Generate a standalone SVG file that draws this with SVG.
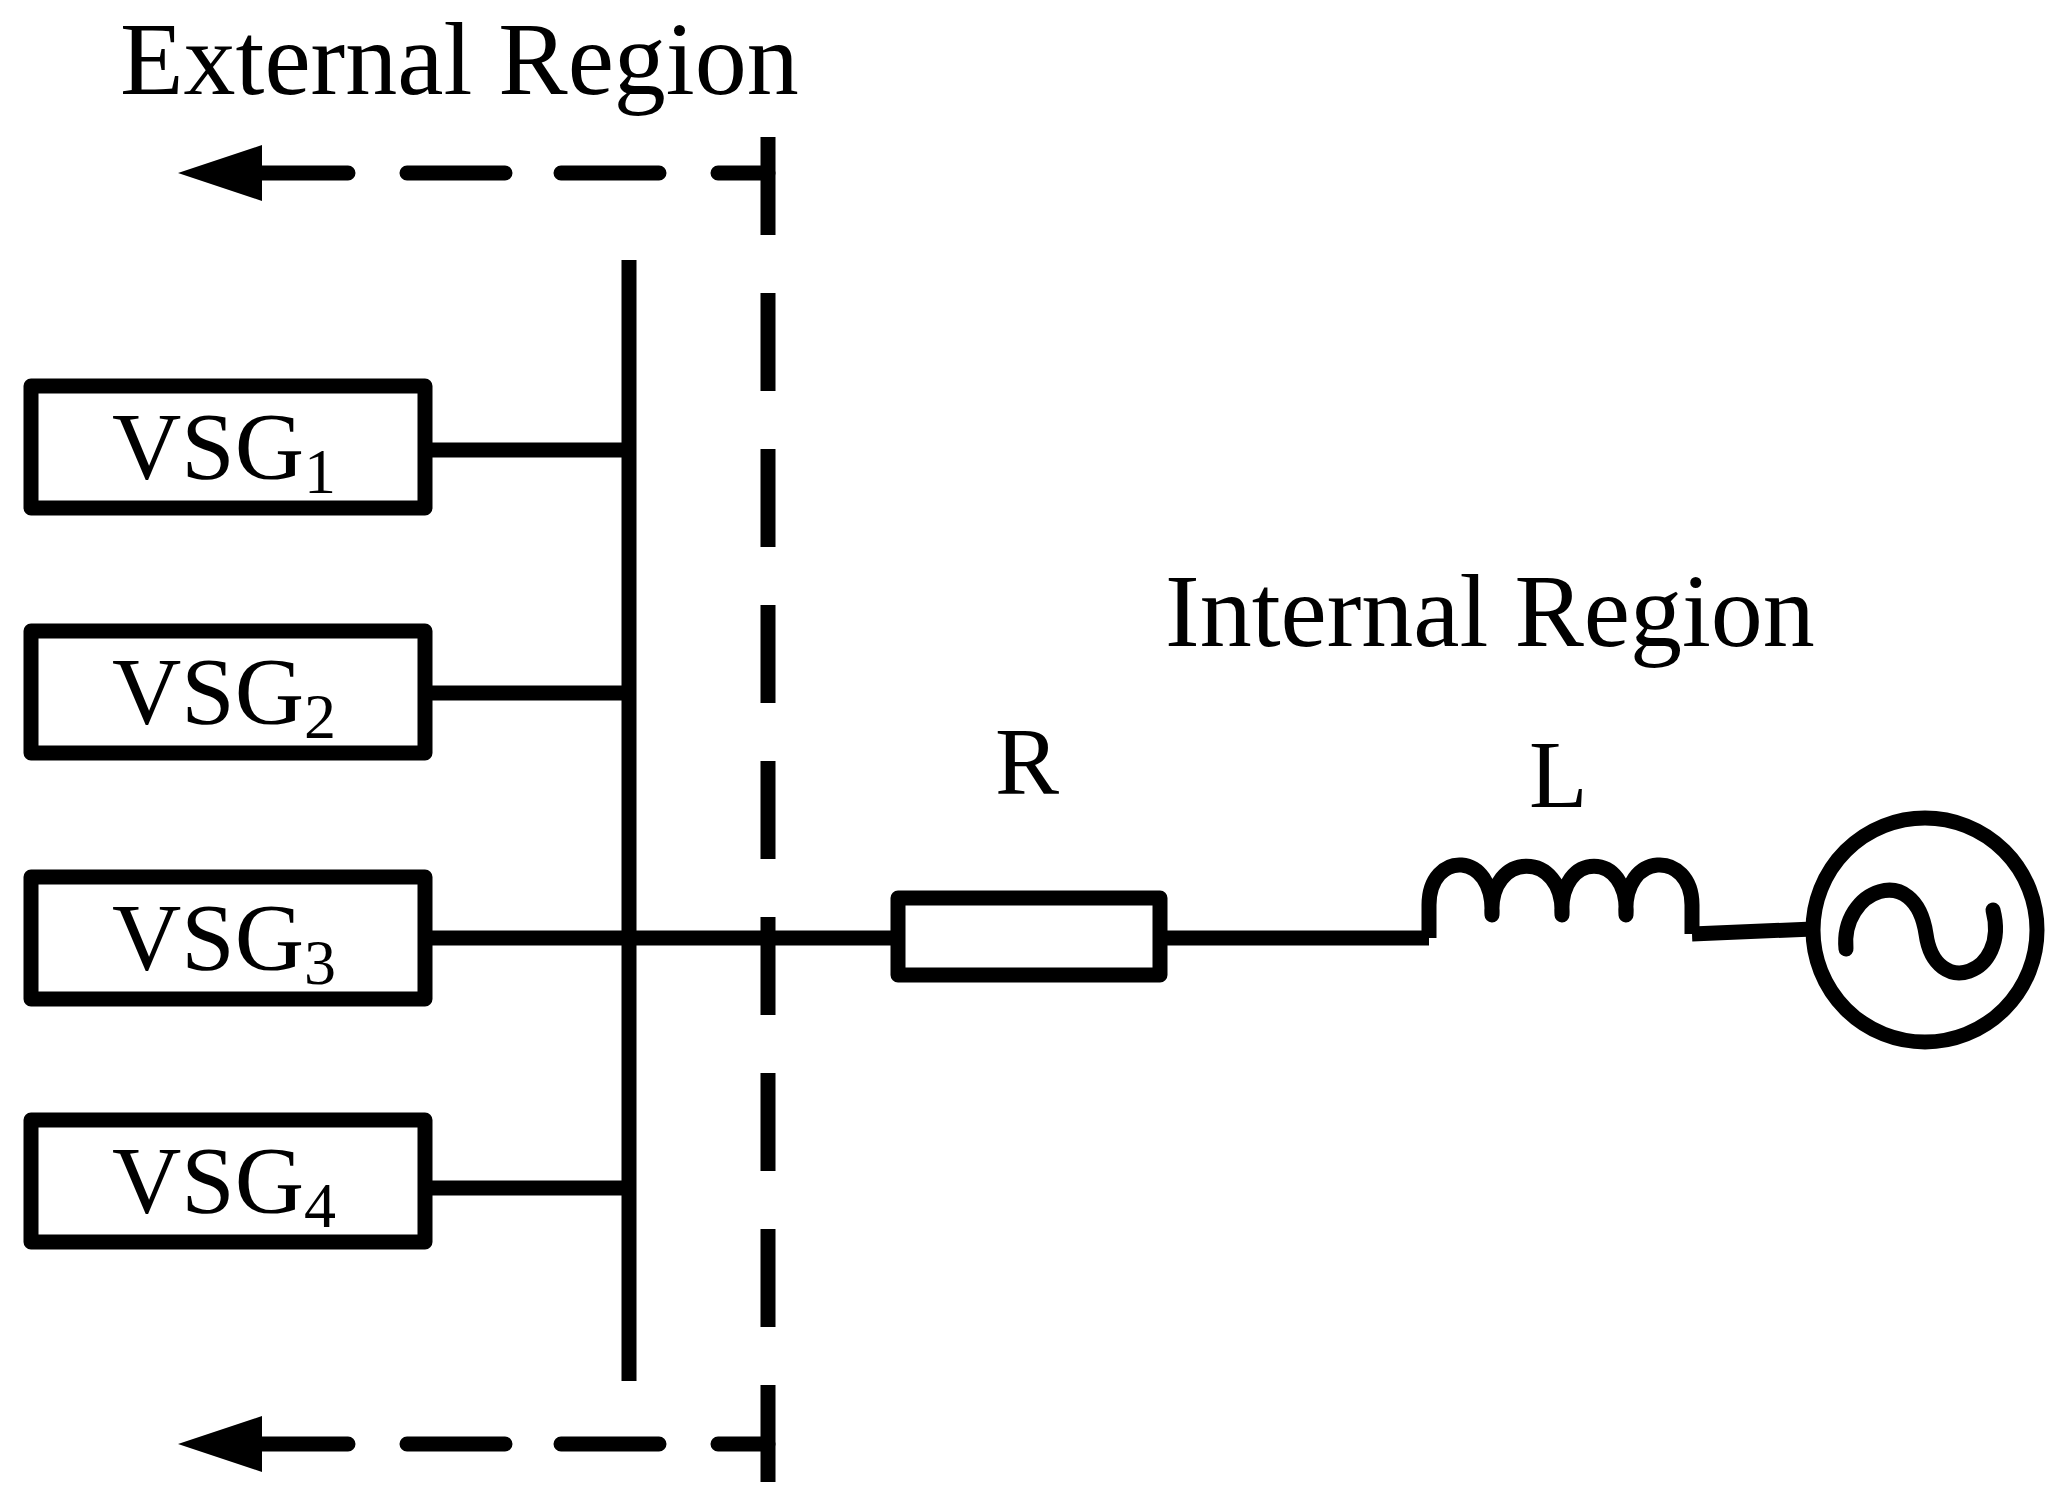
<svg xmlns="http://www.w3.org/2000/svg" width="2058" height="1504" viewBox="0 0 2058 1504">
<style>
.l{stroke:#000;stroke-width:15;fill:none;stroke-linejoin:round}
.t{font-family:"Liberation Serif","Times New Roman",serif;fill:#000}
</style>
<rect width="2058" height="1504" fill="#fff"/>
<text class="t" x="120" y="94" font-size="104">External Region</text>
<text class="t" x="1165" y="646" font-size="104">Internal Region</text>
<g id="vsg1"><rect class="l" x="31" y="386" width="394" height="122"/><text class="t" x="112" y="479" font-size="96">VSG<tspan font-size="64" dy="14">1</tspan></text></g>
<g id="vsg2"><rect class="l" x="31" y="631" width="394" height="122"/><text class="t" x="112" y="724" font-size="96">VSG<tspan font-size="64" dy="14">2</tspan></text></g>
<g id="vsg3"><rect class="l" x="31" y="877" width="394" height="122"/><text class="t" x="112" y="970" font-size="96">VSG<tspan font-size="64" dy="14">3</tspan></text></g>
<g id="vsg4"><rect class="l" x="31" y="1120" width="394" height="122"/><text class="t" x="112" y="1213" font-size="96">VSG<tspan font-size="64" dy="14">4</tspan></text></g>
<g id="resistor"><rect class="l" x="898" y="898" width="262" height="77"/><text class="t" x="995" y="794" font-size="96">R</text></g>
<g id="inductor"><path class="l" d="M1429,938 L1429,905 C1429,850 1495,850 1492,915 C1488,850 1565,850 1562,915 C1558,850 1630,850 1626,915 C1622,850 1692,850 1692,905 L1692,934"/><text class="t" x="1529" y="807" font-size="96">L</text></g>
<g id="source"><circle class="l" cx="1925" cy="930" r="112"/><path class="l" d="M1846,949 C1840,890 1915,860 1926,934 C1935,1000 2010,975 1993,910" stroke-linecap="round"/></g>
<g id="connectors" class="l">
<line x1="629" y1="260" x2="629" y2="1381"/>
<line x1="425" y1="450" x2="629" y2="450"/>
<line x1="425" y1="693" x2="629" y2="693"/>
<line x1="425" y1="938" x2="898" y2="938"/>
<line x1="425" y1="1188" x2="629" y2="1188"/>
<line x1="1160" y1="938" x2="1429" y2="938"/>
<line x1="1692" y1="934" x2="1813" y2="929"/>
<line x1="768" y1="137" x2="768" y2="1482" stroke-dasharray="98 58"/>
<path d="M262,173H348M407,173H505M561,173H659M718,173H768" stroke-linecap="round"/>
<path d="M262,1444H348M407,1444H505M561,1444H659M718,1444H768" stroke-linecap="round"/>
<polygon points="178,173 262,145 262,201" fill="#000" stroke="none"/>
<polygon points="178,1444 262,1416 262,1472" fill="#000" stroke="none"/>
</g>
</svg>
